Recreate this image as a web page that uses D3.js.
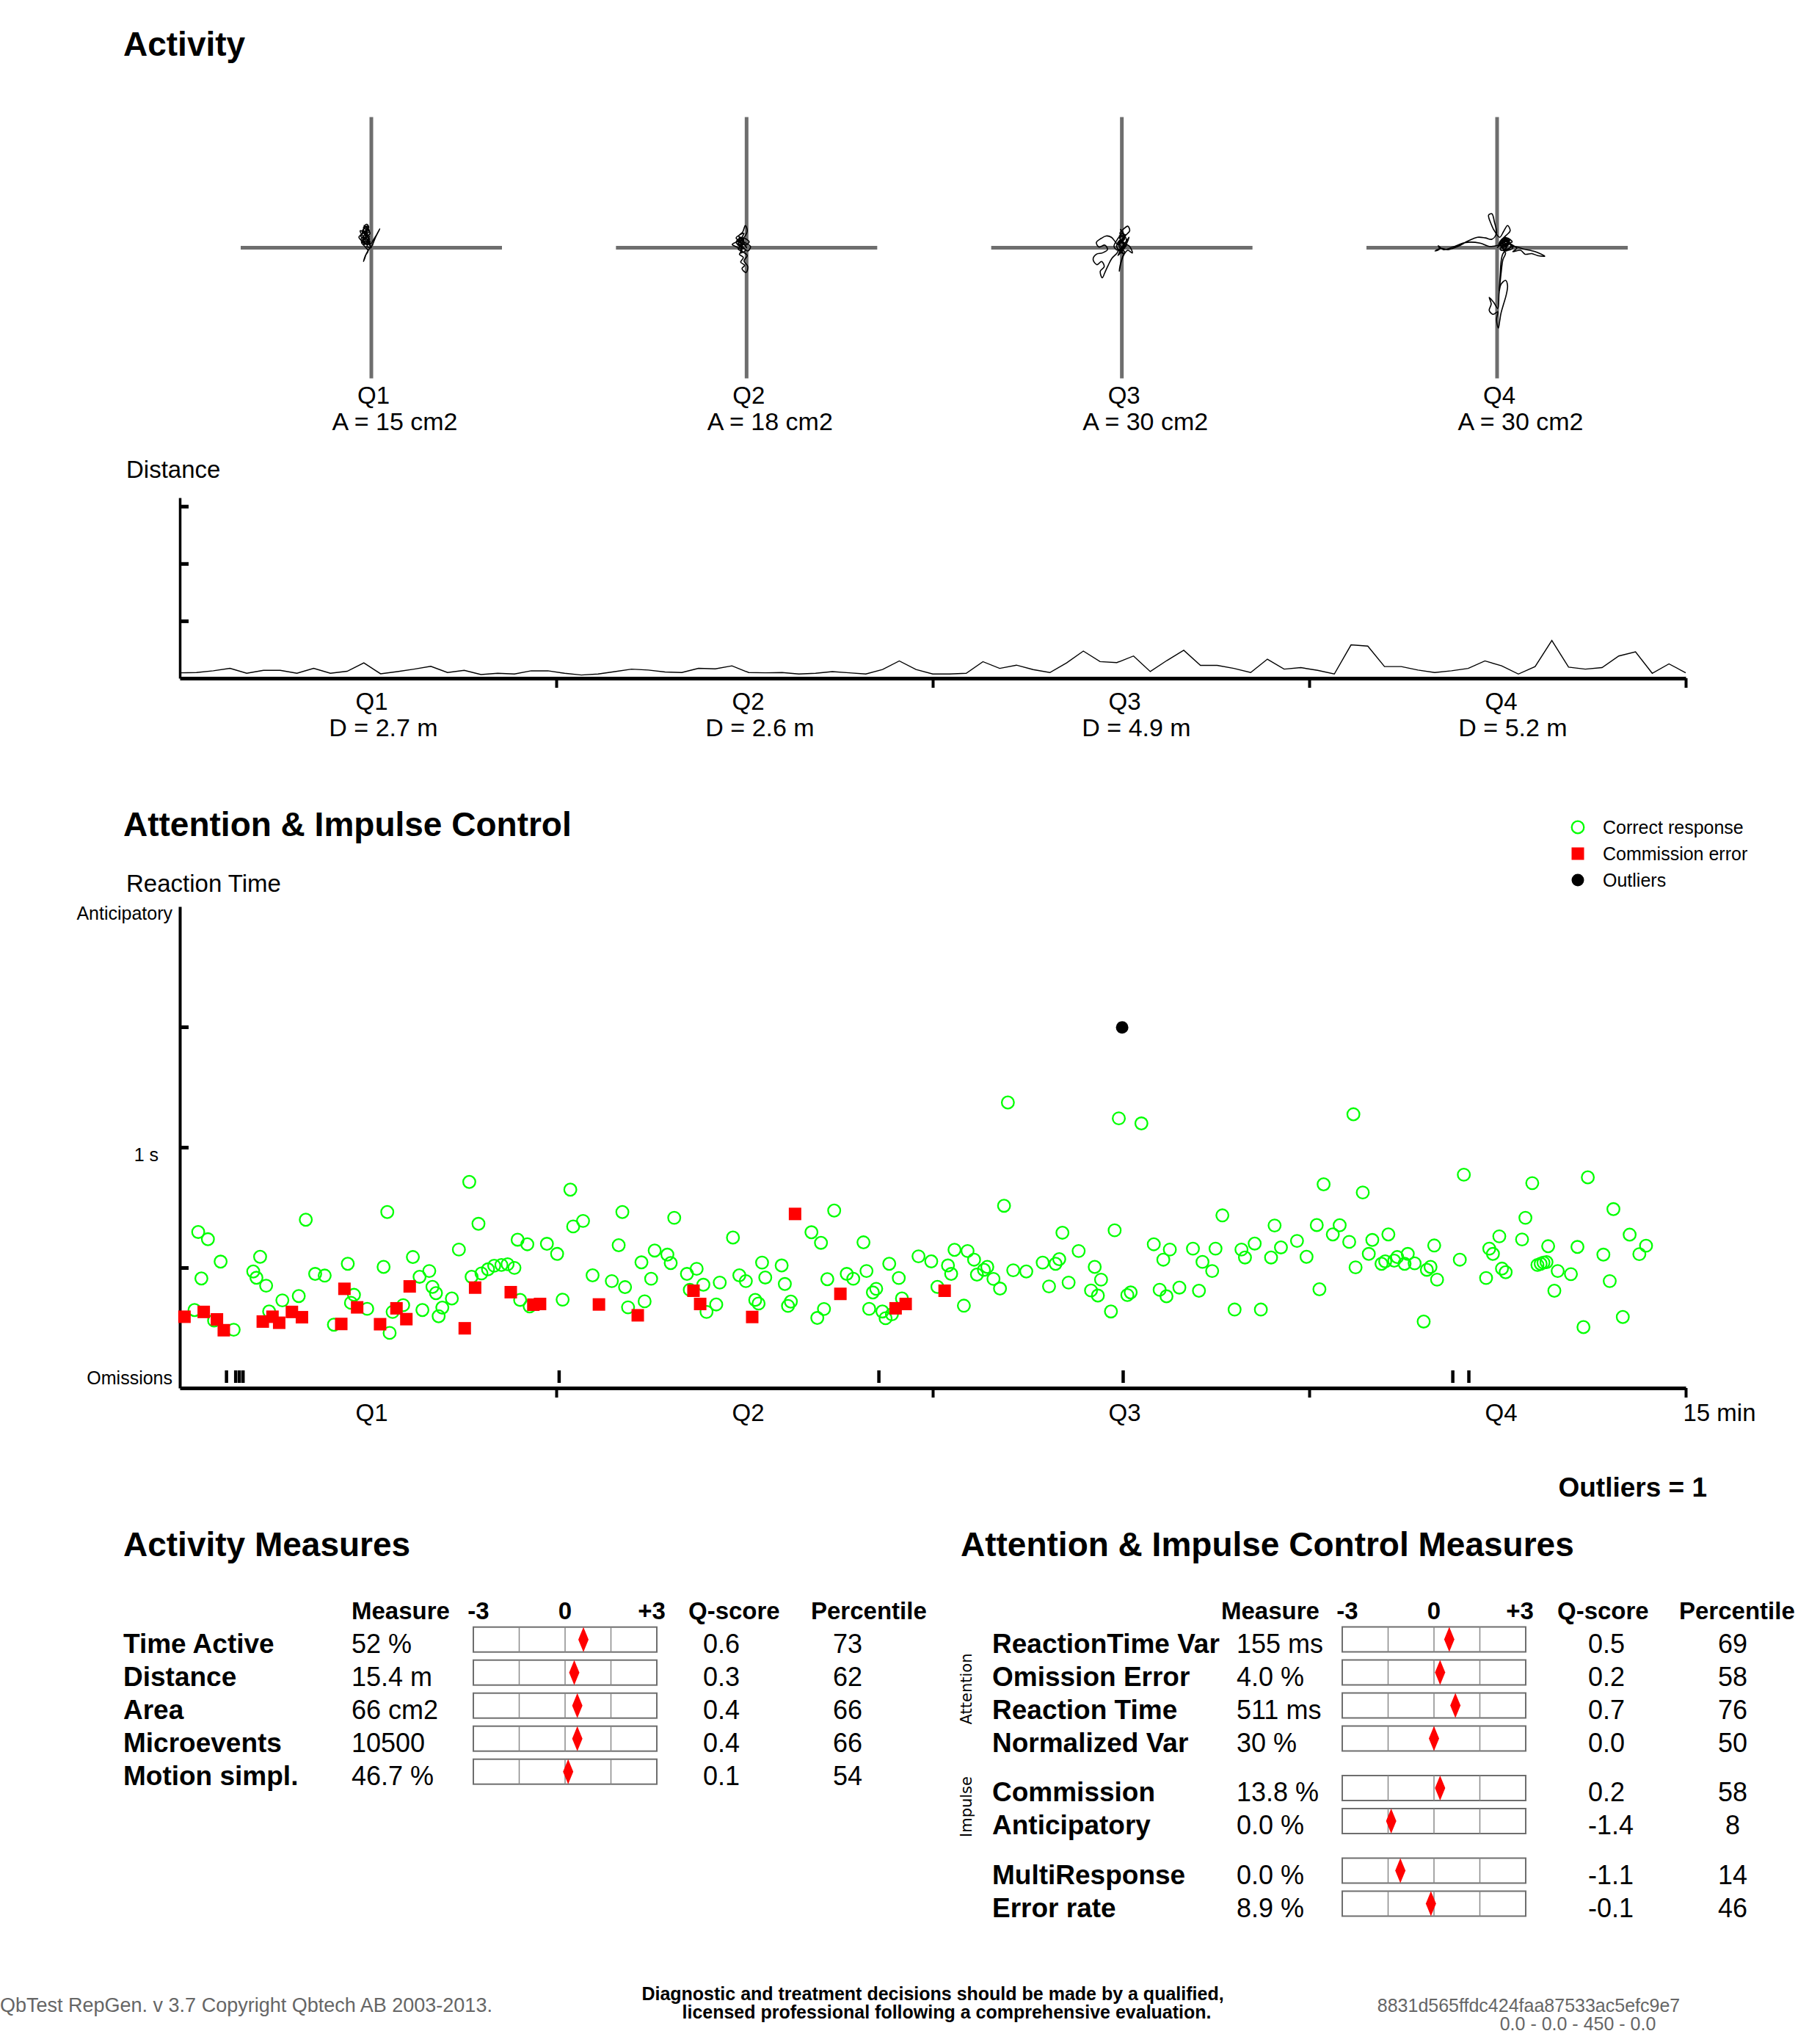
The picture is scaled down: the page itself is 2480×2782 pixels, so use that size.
<!DOCTYPE html>
<html><head><meta charset="utf-8">
<script src="https://cdn.jsdelivr.net/npm/d3@7"></script>
<style>body{margin:0;background:#fff}svg{display:block}</style>
</head><body><svg id="c" width="2480" height="2782"></svg>
<script>
// ---------------- DATA ----------------
const quarters = ["Q1","Q2","Q3","Q4"];
const areaValues = [15, 18, 30, 30];          // cm2
const distanceTotals = [2.7, 2.6, 4.9, 5.2];  // m

// movement traces (cm, relative to start point, y up)
const traceQ1 = [[0,0],[-0.6,0.8],[-1.2,0.4],[-0.9,1.3],[-1.6,1.7],[-1.1,2.3],[-0.5,1.9],[-1.3,1.0],[-0.7,0.5],[-0.3,1.4],[-0.9,2.0],[-0.5,2.7],[-1.2,3.0],[-0.7,3.6],[-0.4,3.1],[-1.0,2.5],[-1.5,2.1],[-1.9,1.6],[-1.4,1.1],[-0.8,1.6],[-0.2,2.2],[-0.6,2.9],[-1.1,3.4],[-0.8,2.4],[-1.7,2.6],[-1.3,1.8],[-0.6,1.2],[-0.1,0.6],[0.3,1.2],[0.7,1.8],[1.3,2.9],[0.6,1.5],[0.1,0.3],[-0.4,-0.3],[-0.8,-1.0],[-1.0,-1.6],[-1.2,-2.1],[-0.9,-1.2],[-0.5,-0.5],[-1.0,0.2],[-1.5,0.8],[-1.1,1.5],[-0.4,1.0],[-0.8,0.7],[-1.3,1.4],[-0.9,2.1],[-0.3,1.7],[-0.7,1.1],[-0.2,0.4],[0,0],[-0.4,0.6],[-1.0,1.2],[-0.5,1.8],[-1.4,2.4],[-0.8,3.2],[-0.3,2.5],[-1.1,1.9],[-1.6,1.2],[-0.9,0.6],[-0.4,1.3],[-1.2,2.8],[-0.6,3.3],[-0.9,1.5],[-0.2,0.9],[-0.7,0.2],[0,0]];
const traceQ2 = [[0,0],[-0.5,0.6],[-1.1,0.3],[-1.6,0.9],[-0.9,1.4],[-0.4,1.0],[-1.2,1.8],[-0.6,2.4],[-0.2,3.4],[0.1,2.6],[-0.3,1.7],[-1.0,1.1],[-2.2,0.5],[-1.5,0.1],[-0.7,-0.4],[-1.1,-1.0],[-0.5,-1.5],[-0.9,-2.2],[-0.3,-2.7],[-0.7,-3.2],[-0.1,-3.8],[0.2,-2.9],[-0.4,-2.0],[0.1,-1.2],[-0.6,-0.6],[-1.3,-0.2],[-0.8,0.5],[-1.4,1.2],[-0.5,1.5],[0.4,0.9],[-0.2,0.4],[-0.9,0.9],[-1.6,1.5],[-1.0,2.0],[-0.4,2.2],[-0.8,1.3],[-0.1,0.7],[0.6,0.2],[0.2,-0.5],[-0.6,0.1],[-1.2,0.7],[-0.7,1.0],[0,0],[-0.8,1.1],[-1.3,0.6],[-0.6,-0.2],[-1.0,0.4],[-0.4,1.2],[-1.1,1.6],[-0.7,0.3],[-0.2,-0.4],[-0.9,-0.8],[-0.5,0.5],[0,0]];
const traceQ3 = [[0,0],[-0.4,0.8],[0.2,1.5],[-0.3,2.2],[0.3,2.9],[0.9,3.3],[1.2,2.6],[0.6,1.9],[0.1,1.1],[-0.5,0.4],[-1.0,0.9],[-1.6,1.6],[-2.4,1.8],[-3.2,1.4],[-3.9,0.8],[-3.5,0.1],[-2.6,0.4],[-2.2,-0.3],[-3.0,-0.8],[-3.9,-1.0],[-4.4,-1.8],[-3.8,-2.6],[-3.1,-2.1],[-2.7,-2.9],[-3.3,-3.6],[-3.0,-4.6],[-2.6,-3.8],[-2.1,-2.7],[-1.5,-1.6],[-0.8,-0.9],[-0.3,-0.2],[0.4,-0.6],[0.1,-1.4],[-0.2,-2.4],[-0.4,-3.6],[-0.1,-2.2],[0.3,-1.1],[0.9,-0.4],[1.6,-0.8],[1.2,0.2],[0.5,0.6],[-0.2,1.2],[-0.8,0.3],[-0.3,-0.5],[0.3,0.3],[-0.4,1.7],[0.2,2.4],[-0.6,1.4],[-1.2,0.2],[-0.6,-0.4],[0.6,0.9],[1.1,1.6],[0.4,0.1],[0,0],[0.3,0.6],[-0.3,1.5],[0.5,2.0],[-0.1,0.9],[0.6,0.2],[-0.4,-0.4],[0.2,-0.9],[-0.5,0.6],[0.4,1.3],[-0.2,2.8],[0.7,1.1],[0.0,0.0],[-0.6,-1.2],[0.2,-0.3],[0.8,0.5],[0,0]];
const traceQ4 = [[0,0],[0.8,0.6],[1.5,0.2],[1.0,1.1],[1.8,1.4],[1.2,-0.3],[0.5,0.9],[1.4,1.9],[2.0,2.6],[1.6,3.4],[1.0,2.5],[0.4,1.6],[-0.3,2.4],[-0.9,3.6],[-1.3,5.0],[-0.8,5.2],[-0.4,3.9],[-0.1,2.2],[-0.8,1.3],[-1.8,1.5],[-3.0,1.6],[-4.5,1.0],[-6.0,0.2],[-7.5,-0.3],[-8.6,-0.1],[-9.5,-0.5],[-8.8,-0.2],[-9.0,0.3],[-8.2,-0.3],[-6.8,0.1],[-4.8,0.8],[-2.6,0.7],[-1.2,0.2],[0.2,0.4],[1.3,0.9],[2.2,0.5],[3.0,-0.1],[2.4,-0.6],[3.6,-0.4],[4.3,-1.0],[5.3,-0.9],[6.2,-1.2],[7.3,-1.3],[5.8,-0.6],[4.0,-0.2],[2.6,0.2],[1.6,-0.2],[0.9,-0.9],[0.6,-2.2],[0.5,-3.8],[0.4,-5.2],[0.3,-6.8],[0.6,-5.6],[1.3,-5.0],[1.6,-5.8],[1.4,-7.2],[1.0,-8.6],[0.6,-10.0],[0.4,-11.2],[0.2,-12.3],[-0.1,-11.0],[0.1,-9.8],[-0.6,-10.2],[-1.2,-9.6],[-0.9,-8.6],[-1.2,-7.6],[-0.5,-8.4],[0.1,-9.3],[0.3,-7.0],[0.6,-4.0],[0.9,-1.8],[1.3,-0.8],[0.7,0.2],[1.6,0.8],[0.9,1.4],[0.3,0.5],[1.1,0.1],[1.9,0.7],[1.2,1.6],[0.6,0.4],[1.4,-0.5],[2.1,0.3],[1.3,1.0],[0.7,0.7],[1.2,0.3],[1.6,0.4],[0.8,1.0],[1.9,1.2],[1.1,-0.2],[0.4,0.8],[1.5,1.5],[2.3,0.9],[1.0,0.5],[0.5,-0.3],[1.7,-0.4],[2.4,0.0],[1.3,1.2],[0.8,0.2],[1.5,0.7],[1.0,0.0]];
const traces = [traceQ1, traceQ2, traceQ3, traceQ4];

// distance per 10 s interval (arbitrary units, ticks at 100/200/300)
const distanceValues = [9.5,9.9,12.9,17.2,8.6,13.8,13.8,8.6,17.2,8.6,12.1,26.7,7.8,11.6,15.9,20.7,9.9,13.8,6.5,8.6,7.3,12.9,12.9,8.6,5.6,7.3,11.6,15.9,14.2,10.8,9.9,17.2,16.4,21.6,9.9,9.5,9.9,7.3,8.6,11.6,9.5,7.3,15.1,30.2,15.1,7.3,7.3,8.6,28.9,17.2,22.8,15.1,9.9,26.7,47.4,28.9,27.2,38.8,11.6,31.0,48.7,22.4,22.4,17.2,9.9,33.2,15.9,18.5,13.8,7.3,58.2,56.0,20.3,20.3,14.2,9.9,12.9,17.2,30.2,21.6,7.3,20.3,65.9,19.4,15.9,18.5,38.8,46.1,8.6,25.0,9.5];

// reaction time data: [time (s), reaction time (ms)]
const correctResponses = [
[8.8,324],[11.0,648],[16.8,618],[24.4,525],[12.9,455],[20.5,280],[32.2,242],[48.0,545],[43.9,484],[45.8,458],[51.6,425],[53.4,318],[61.3,364],[71.1,382],[75.3,699],[80.9,474],[86.6,467],[92.1,263],[100.4,516],[104.1,387],[102.3,354],[112.0,329],[124.0,731],[121.8,503],[125.4,229],[127.2,316],[133.5,344],[139.3,544],[143.3,462],[149.1,486],[151.0,420],[153.1,394],[145.0,324],[156.9,334],[154.7,298],[162.6,372],[166.8,575],[173.0,856],[178.5,682],[174.4,462],[180.3,476],[184.2,493],[187.9,508],[192.2,511],[195.9,514],[200.0,499],[201.9,616],[207.7,597],[203.4,366],[209.1,339],[219.4,599],
[225.5,557],[228.8,367],[233.4,824],[235.1,671],[241.0,694],[246.7,468],[258.2,444],[262.3,593],[264.5,731],[266.1,419],[267.9,335],[275.9,522],[277.8,360],[281.7,454],[283.8,571],[291.4,554],[293.4,519],[295.5,707],[303.1,474],[308.9,495],[304.8,408],[312.9,429],[314.8,316],[320.6,347],[322.7,438],[330.6,625],[334.4,468],[338.3,444],[343.9,366],[345.9,351],[348.0,521],[349.9,459],[359.7,509],[361.6,432],[363.5,341],[365.2,359],[377.5,647],[383.2,603],[381.0,291],[385.0,328],[387.0,452],[391.1,737],[398.6,474],[402.5,454],[408.6,605],[410.4,486],[416.2,412],[414.2,397],[412.0,329],[419.9,318],[421.8,290],[425.6,306],[424.0,516],[429.7,457],[431.6,372],[441.5,547],[449.1,526],
[452.8,420],[459.1,509],[461.0,474],[463.0,574],[470.8,569],[474.7,533],[468.6,342],[476.4,471],[480.6,491],[482.6,503],[486.3,453],[490.2,413],[492.6,757],[494.9,1186],[498.1,489],[505.9,484],[515.7,521],[519.5,422],[523.4,516],[525.6,535],[527.5,645],[531.2,438],[537.2,569],[544.6,405],[548.7,384],[546.8,503],[550.6,450],[556.5,318],[558.7,655],[561.2,1120],[566.3,386],[568.3,397],[574.7,1099],[582.1,597],[587.8,533],[591.7,575],[585.6,408],[589.7,381],[597.4,417],[605.5,579],[609.1,404],[611.2,524],[617.0,486],[619.0,579],[623.1,717],[630.4,326],[634.5,575],[636.6,542],[642.4,600],[646.1,326],[652.2,542],[654.3,675],[658.1,584],[667.7,611],[673.4,545],
[679.5,677],[681.1,410],[683.6,846],[689.1,638],[693.2,676],[698.9,607],[701.4,1137],[702.7,501],[707.0,812],[710.6,557],[712.7,615],[718.2,516],[720.4,526],[722.3,638],[725.8,529],[727.6,544],[732.0,516],[733.9,557],[738.0,518],[743.4,276],[745.3,491],[747.5,503],[749.7,592],[751.4,450],[765.0,533],[767.4,886],[780.7,457],[782.6,579],[784.8,557],[788.6,630],[790.2,496],[792.4,481],[802.2,617],[804.2,707],[808.3,851],[811.4,511],[813.3,516],[815.0,521],[816.8,523],[817.8,589],[821.5,404],[823.5,486],[831.4,473],[835.3,586],[838.9,253],[841.5,875],[850.8,554],[854.6,444],[856.8,743],[862.4,295],[866.5,637],[872.3,556],[876.3,591]];
const commissionErrors = [[2.8,296],[14.3,316],[22.2,285],[26.3,240],[49.6,276],[55.4,296],[59.4,271],[67.0,316],[73.0,294],[98.4,412],[96.5,266],[106.0,335],[119.7,265],[129.5,331],[135.4,286],[137.4,422],[170.3,248],[176.5,417],[197.8,398],[211.3,346],[215.3,349],[250.5,347],[273.7,302],[307.0,404],[311.0,349],[342.1,295],[367.7,723],[394.8,391],[427.8,331],[433.8,349],[457.1,404]];
const outliers = [[563.2,1498]];
const omissions = [27.8,33.3,35.5,37.7,226.6,417.7,563.7,760.7,770.3]; // time (s)

const legendLabels = ["Correct response","Commission error","Outliers"];

const activityLabels = ["Time Active","Distance","Area","Microevents","Motion simpl."];
const activityMeasures = ["52 %","15.4 m","66 cm2","10500","46.7 %"];
const activityQ = [0.6,0.3,0.4,0.4,0.1];
const activityPct = [73,62,66,66,54];

const attentionLabels = ["ReactionTime Var","Omission Error","Reaction Time","Normalized Var","Commission","Anticipatory","MultiResponse","Error rate"];
const attentionGroups = [0,0,0,0,1,1,2,2];
const attentionMeasures = ["155 ms","4.0 %","511 ms","30 %","13.8 %","0.0 %","0.0 %","8.9 %"];
const attentionQ = [0.5,0.2,0.7,0.0,0.2,-1.4,-1.1,-0.1];
const attentionPct = [69,58,76,50,58,8,14,46];
const groupNames = ["Attention","Impulse"];
const headerCols = ["Measure","-3","0","+3","Q-score","Percentile"];
const outlierCount = 1;

// ---------------- DRAW ----------------
const FONT = '"Liberation Sans", Arial, Helvetica, sans-serif';
const svg = d3.select("#c");
svg.append("rect").attr("width",2480).attr("height",2782).attr("fill","#fff");

function txt(x, y, s, size, o = {}) {
  return svg.append("text").attr("x", x).attr("y", y).text(s)
    .attr("font-family", o.family || FONT).attr("font-size", size)
    .attr("font-weight", o.bold ? "bold" : "normal")
    .attr("text-anchor", o.anchor || "start")
    .attr("fill", o.fill || "#000");
}

// ---- Activity ----
txt(168, 76, "Activity", 46, {bold:true});
const crossX = d3.scalePoint().domain(quarters).range([506, 2040]);
const crossY = 337.5;
const tx = d3.scaleLinear().domain([-20,20]).range([-178,178]);
const ty = d3.scaleLinear().domain([-20,20]).range([178,-178]);
quarters.forEach((q,i) => {
  const cx = crossX(q);
  const g = svg.append("g");
  g.append("line").attr("x1",cx-178).attr("x2",cx+178).attr("y1",crossY).attr("y2",crossY)
    .attr("stroke","#6e6e6e").attr("stroke-width",5);
  g.append("line").attr("x1",cx).attr("x2",cx).attr("y1",crossY-178).attr("y2",crossY+178)
    .attr("stroke","#6e6e6e").attr("stroke-width",5);
  const line = d3.line().x(d => cx + tx(d[0])).y(d => crossY + ty(d[1])).curve(d3.curveCatmullRom);
  g.append("path").datum(traces[i]).attr("d", line).attr("fill","none")
    .attr("stroke","#000").attr("stroke-width",1.6);
  txt(cx+3, 550, q, 33, {anchor:"middle"});
  txt(cx+32, 586, "A = " + areaValues[i] + " cm2", 34, {anchor:"middle"});
});

// ---- Distance ----
const xTime = d3.scaleLinear().domain([0,900]).range([245,2297]);
const yDist = d3.scaleLinear().domain([0,315]).range([924,678]);
txt(172, 651, "Distance", 33);
const distLine = d3.line().x((d,i) => xTime(i*900/(distanceValues.length-1))).y(d => yDist(d));
svg.append("path").datum(distanceValues).attr("d", distLine).attr("fill","none")
  .attr("stroke","#000").attr("stroke-width",1.4);

function styleAxis(g, domainW, tickW) {
  g.select(".domain").attr("stroke","#000").attr("stroke-width",domainW);
  g.selectAll(".tick line").attr("stroke","#000").attr("stroke-width",tickW);
  g.selectAll(".tick text").remove();
}
const dY = svg.append("g").attr("transform","translate(245,0)")
  .call(d3.axisRight(yDist).tickValues([100,200,300]).tickSize(12).tickSizeOuter(0).tickFormat(""));
styleAxis(dY, 3.5, 5);
const dX = svg.append("g").attr("transform","translate(0,924)")
  .call(d3.axisBottom(xTime).tickValues([225,450,675,900]).tickSize(13).tickSizeOuter(0).tickFormat(""));
styleAxis(dX, 5, 4);
quarters.forEach((q,i) => {
  const m = xTime((i+0.5)*225);
  txt(m+5, 967, q, 33, {anchor:"middle"});
  txt(m+21, 1003, "D = " + distanceTotals[i] + " m", 34, {anchor:"middle"});
});

// ---- Attention & Impulse Control ----
txt(168, 1139, "Attention & Impulse Control", 46, {bold:true});
txt(172, 1215, "Reaction Time", 33);
const yRT = d3.scaleLinear().domain([0,2000]).range([1891,1235]);
txt(235, yRT(2000)+18, "Anticipatory", 25, {anchor:"end"});
txt(216, yRT(1000)+19, "1 s", 25, {anchor:"end"});
txt(235, yRT(0)-5, "Omissions", 25, {anchor:"end"});

// omission markers
svg.append("g").selectAll("rect").data(omissions).join("rect")
  .attr("x", d => xTime(d)-2).attr("y", yRT(0)-24).attr("width",4.5).attr("height",17).attr("fill","#000");

const rY = svg.append("g").attr("transform","translate(245,0)")
  .call(d3.axisRight(yRT).tickValues([500,1000,1500]).tickSize(12).tickSizeOuter(0).tickFormat(""));
styleAxis(rY, 4, 5);
const rX = svg.append("g").attr("transform","translate(0,"+yRT(0)+")")
  .call(d3.axisBottom(xTime).tickValues([225,450,675,900]).tickSize(13).tickSizeOuter(0).tickFormat(""));
styleAxis(rX, 5, 4);
quarters.forEach((q,i) => {
  txt(xTime((i+0.5)*225)+5, 1936, q, 33, {anchor:"middle"});
});
txt(xTime(900)+46, 1936, "15 min", 33, {anchor:"middle"});

// points
svg.append("g").selectAll("circle").data(correctResponses).join("circle")
  .attr("cx", d => xTime(d[0])).attr("cy", d => yRT(d[1])).attr("r", 8.3)
  .attr("fill","none").attr("stroke","#00ff00").attr("stroke-width",2.3);
svg.append("g").selectAll("rect").data(commissionErrors).join("rect")
  .attr("x", d => xTime(d[0])-8.5).attr("y", d => yRT(d[1])-8.5).attr("width",17).attr("height",17)
  .attr("fill","#ff0000");
svg.append("g").selectAll("circle").data(outliers).join("circle")
  .attr("cx", d => xTime(d[0])).attr("cy", d => yRT(d[1])).attr("r", 8.5).attr("fill","#000");

// legend
const lg = svg.append("g");
const ly = [1127, 1163, 1199];
lg.append("circle").attr("cx",2150).attr("cy",ly[0]).attr("r",8.3).attr("fill","none")
  .attr("stroke","#00ff00").attr("stroke-width",2.3);
lg.append("rect").attr("x",2150-8.5).attr("y",ly[1]-8.5).attr("width",17).attr("height",17).attr("fill","#ff0000");
lg.append("circle").attr("cx",2150).attr("cy",ly[2]).attr("r",8.5).attr("fill","#000");
legendLabels.forEach((l,i) => txt(2184, ly[i]+8.5, l, 25));

txt(2326, 2039, "Outliers = " + outlierCount, 37, {bold:true, anchor:"end"});

// ---- Tables ----
function drawBar(qs, top, val) {
  const g = svg.append("g");
  const [x0, x1] = qs.range();
  g.append("rect").attr("x", x0).attr("y", top).attr("width", x1-x0).attr("height", 34)
    .attr("fill","#fff").attr("stroke","#6e6e6e").attr("stroke-width",2);
  [-1.5, 0, 1.5].forEach(v => g.append("line").attr("x1", qs(v)).attr("x2", qs(v))
    .attr("y1", top).attr("y2", top+34).attr("stroke","#8a8a8a").attr("stroke-width",1.5));
  const cx = qs(val);
  g.append("path").attr("d", `M${cx},${top} L${cx+7},${top+17} L${cx},${top+34} L${cx-7},${top+17} Z`)
    .attr("fill","#ff0000");
}
function header(cols, xs) {
  cols.forEach((c,i) => txt(xs[i][0], 2206, c, 33, {bold:true, anchor:xs[i][1]}));
}

// Activity Measures
txt(168, 2120, "Activity Measures", 46, {bold:true});
const qsA = d3.scaleLinear().domain([-3,3]).range([645,895]);
header(headerCols, [[479,"start"],[qsA(-3)+7,"middle"],[qsA(0),"middle"],[qsA(3)-7,"middle"],[938,"start"],[1105,"start"]]);
activityLabels.forEach((l,i) => {
  const top = 2216.7 + i*45;
  txt(168, top+35, l, 37, {bold:true});
  txt(479, top+35, activityMeasures[i], 36);
  drawBar(qsA, top, activityQ[i]);
  txt(958, top+35, activityQ[i].toFixed(1), 36);
  txt(1155, top+35, String(activityPct[i]), 36, {anchor:"middle"});
});

// Attention & Impulse Control Measures
txt(1309, 2120, "Attention & Impulse Control Measures", 46, {bold:true});
const qsB = d3.scaleLinear().domain([-3,3]).range([1829,2079]);
header(headerCols, [[1664,"start"],[qsB(-3)+7,"middle"],[qsB(0),"middle"],[qsB(3)-8,"middle"],[2122,"start"],[2288,"start"]]);
const rowTops = attentionLabels.map((l,i) => 2216.5 + i*45 + attentionGroups[i]*22.5);
attentionLabels.forEach((l,i) => {
  const top = rowTops[i];
  txt(1352, top+35, l, 37, {bold:true});
  txt(1685, top+35, attentionMeasures[i], 36);
  drawBar(qsB, top, attentionQ[i]);
  txt(2164, top+35, attentionQ[i].toFixed(1), 36);
  txt(2361, top+35, String(attentionPct[i]), 36, {anchor:"middle"});
});
groupNames.forEach((n,gi) => {
  const idx = attentionGroups.map((g,i)=>g===gi?i:-1).filter(i=>i>=0);
  const cy = (rowTops[idx[0]] + rowTops[idx[idx.length-1]] + 34)/2 + (gi===0?0:3);
  svg.append("text").attr("transform",`translate(1324,${cy}) rotate(-90)`)
    .attr("text-anchor","middle").attr("font-family",'"DejaVu Sans", Verdana, sans-serif')
    .attr("font-size",21).text(n);
});

// Footer
txt(0, 2741, "QbTest RepGen. v 3.7 Copyright Qbtech AB 2003-2013.", 27, {fill:"#666"});
txt(1271, 2725, "Diagnostic and treatment decisions should be made by a qualified,", 25, {bold:true, anchor:"middle"});
txt(1290, 2750, "licensed professional following a comprehensive evaluation.", 25, {bold:true, anchor:"middle"});
txt(2083, 2741, "8831d565ffdc424faa87533ac5efc9e7", 25, {fill:"#666", anchor:"middle"});
txt(2150, 2766, "0.0 - 0.0 - 450 - 0.0", 25, {fill:"#666", anchor:"middle"});
</script></body></html>
